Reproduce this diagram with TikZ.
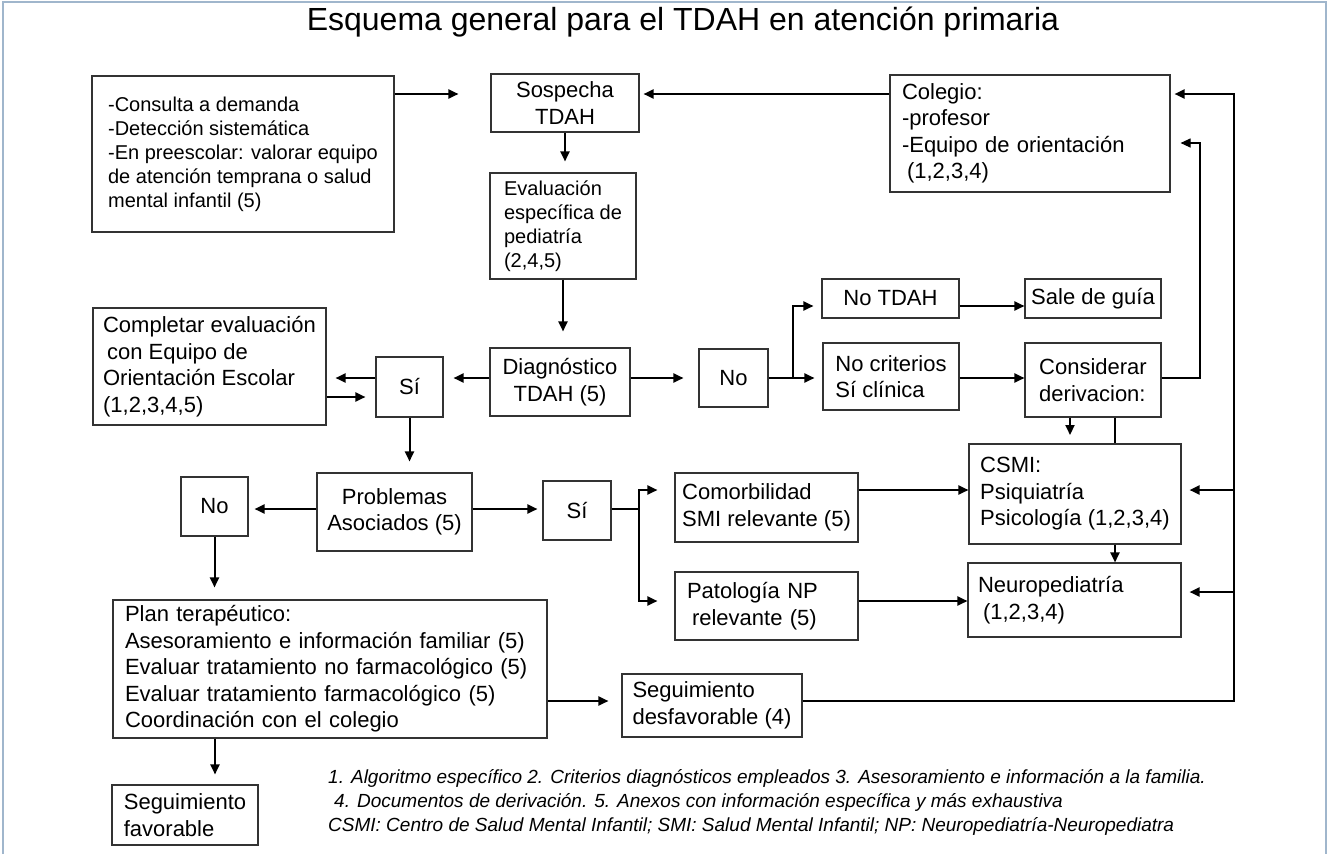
\documentclass[tikz,border=0pt]{standalone}
\usepackage{fontspec}
\setmainfont{Liberation Sans}
\usetikzlibrary{arrows.meta}
\newcommand{\TS}{\fontsize{22}{26.5}\selectfont}
\newcommand{\TSA}{\fontsize{20}{24}\selectfont}
\newcommand{\HS}{\fontsize{32}{38}\selectfont}
\newcommand{\NS}{\fontsize{19}{24}\selectfont\itshape}
\newcommand{\lw}{1.1pt}
\newcommand{\alw}{2pt}
\definecolor{framegray}{RGB}{160,182,204}

\begin{document}
\begin{tikzpicture}[x=1pt,y=-1pt,
    box/.style={draw=black!80,line width=\lw,font=\TS,inner xsep=4pt,inner ysep=2pt,align=center},
    lbox/.style={box,align=left},
    arr/.style={line width=\alw,-{Triangle[length=10pt,width=9pt]}},
    fine/.style={line width=1.1pt}]
    \useasboundingbox (0,0) rectangle (1330,854);
    \draw[framegray,line width=2pt] (3,854) |- (1326,2) -- (1326,854);

    \node[font=\HS] (title) at (683,22) {Esquema general para el TDAH en atención primaria};

    \node[lbox,font=\TSA,minimum width=302pt,minimum height=156pt] (consulta) at (243,154)
        {-Consulta a demanda\\-Detección sistemática\\-En preescolar: valorar equipo\\de atención temprana o salud\\mental infantil (5)};
    \node[box,minimum width=148pt,minimum height=58pt] (sospecha) at (565,103) {Sospecha\\TDAH};
    \node[lbox,font=\TSA,minimum width=146pt,minimum height=106pt] (evaluacion) at (563,226) {Evaluación\\específica de\\pediatría\\(2,4,5)};
    \node[lbox,inner xsep=12pt,text width=256pt,minimum height=117pt] (colegio) at (1030,133.5)
        {Colegio:\\-profesor\\-Equipo de orientación\\\hspace*{5pt}(1,2,3,4)};
    \node[lbox,minimum width=233pt,minimum height=117pt] (completar) at (209.5,366.5)
        {Completar evaluación\\\hspace*{4pt}con Equipo de\\Orientación Escolar\\(1,2,3,4,5)};
    \node[box,minimum width=67pt,minimum height=60pt] (si1) at (409.5,387) {Sí};
    \node[box,minimum width=140pt,minimum height=68pt] (diag) at (560,382) {Diagnóstico\\TDAH (5)};
    \node[box,minimum width=69pt,minimum height=58pt] (noR) at (733.5,378) {No};
    \node[box,minimum width=137pt,minimum height=39pt] (notdah) at (890.5,298.5) {No TDAH};
    \node[box,minimum width=136pt,minimum height=39pt] (sale) at (1093,298.5) {Sale de guía};
    \node[lbox,minimum width=136pt,minimum height=67pt] (nocrit) at (891,376.5) {No criterios\\Sí clínica};
    \node[lbox,minimum width=136pt,minimum height=74pt] (consid) at (1093,380) {Considerar\\derivacion:};
    \node[box,minimum width=155pt,minimum height=78pt] (problemas) at (394.5,512) {Problemas\\Asociados (5)};
    \node[box,minimum width=67pt,minimum height=59pt] (noL) at (214.5,506.5) {No};
    \node[box,minimum width=68pt,minimum height=59pt] (si2) at (577,510.5) {Sí};
    \node[lbox,minimum width=183pt,minimum height=69pt] (comorb) at (766.5,507.5) {Comorbilidad\\SMI relevante (5)};
    \node[lbox,inner xsep=12pt,text width=159pt,minimum height=68pt] (patol) at (766.5,606) {Patología NP\\\hspace*{5pt}relevante (5)};
    \node[lbox,minimum width=212pt,minimum height=100pt] (csmi) at (1075,494) {CSMI:\\Psiquiatría\\Psicología (1,2,3,4)};
    \node[lbox,inner xsep=10pt,text width=193pt,minimum height=74pt] (neuro) at (1074.5,600) {Neuropediatría\\\hspace*{5pt}(1,2,3,4)};
    \node[lbox,inner xsep=12pt,text width=410pt,minimum height=138pt] (plan) at (330,669)
        {Plan terapéutico:\\Asesoramiento e información familiar (5)\\Evaluar tratamiento no farmacológico (5)\\Evaluar tratamiento farmacológico (5)\\Coordinación con el colegio};
    \node[lbox,minimum width=180pt,minimum height=63pt] (segdes) at (712,705.5) {Seguimiento\\desfavorable (4)};
    \node[lbox,minimum width=146pt,minimum height=60pt] (segfav) at (185,815) {Seguimiento\\favorable};
    \node[font=\NS,align=left,anchor=north west,inner sep=0pt] (notas) at (328,769)
        {1. Algoritmo específico 2. Criterios diagnósticos empleados 3. Asesoramiento e información a la familia.\\
         \hspace*{6pt}4. Documentos de derivación. 5. Anexos con información específica y más exhaustiva\\
         CSMI: Centro de Salud Mental Infantil; SMI: Salud Mental Infantil; NP: Neuropediatría-Neuropediatra};

    \coordinate (yTop) at (0,94);
    \coordinate (yCol) at (0,143);
    \coordinate (yNoT) at (0,306);
    \coordinate (yMid) at (0,378);
    \coordinate (yRet) at (0,397);
    \coordinate (yCom) at (0,490);
    \coordinate (yProb) at (0,509);
    \coordinate (yNeu) at (0,592);
    \coordinate (yPat) at (0,601);
    \coordinate (ySeg) at (0,701);
    \coordinate (xFav) at (215,0);
    \coordinate (xFork) at (639,0);
    \coordinate (xNo) at (793,0);
    \coordinate (xDer) at (1115,0);
    \coordinate (xLoop) at (1200,0);
    \coordinate (xBus) at (1234,0);
    \coordinate (derTip) at (1070,435);

    \draw[arr,shorten >=32pt] (consulta.east |- yTop) -- (sospecha.west |- yTop);
    \draw[arr,shorten >=4pt] (colegio.west |- yTop) -- (sospecha.east |- yTop);
    \draw[arr,shorten >=11pt] (sospecha.south) -- (sospecha.south |- evaluacion.north);
    \draw[arr,shorten >=16pt] (evaluacion.south) -- (evaluacion.south |- diag.north);
    \draw[arr,shorten >=10pt] (diag.west |- yMid) -- (si1.east |- yMid);
    \draw[arr,shorten >=9pt] (si1.west |- yMid) -- (completar.east |- yMid);
    \draw[arr,shorten >=10pt] (completar.east |- yRet) -- (si1.west |- yRet);
    \draw[arr,shorten >=11pt] (si1.south) -- (si1.south |- problemas.north);
    \draw[arr,shorten >=6pt] (problemas.west |- yProb) -- (noL.east |- yProb);
    \draw[arr,shorten >=5pt] (problemas.east |- yProb) -- (si2.west |- yProb);
    \draw[arr,shorten >=12pt] (noL.south) -- (noL.south |- plan.north);
    \draw[arr,shorten >=17pt] (si2.east |- yProb) -| (xFork |- yCom) -- (comorb.west |- yCom);
    \draw[arr,shorten >=17pt] (xFork |- yCom) |- (patol.west |- yPat);
    \draw[arr] (comorb.east |- yCom) -- (csmi.west |- yCom);
    \draw[arr] (patol.east |- yPat) -- (neuro.west |- yPat);
    \draw[arr] (csmi.south -| xDer) -- (neuro.north -| xDer);
    \draw[arr,shorten >=15pt] (diag.east |- yMid) -- (noR.west |- yMid);
    \draw[arr,shorten >=8pt] (noR.east |- yMid) -| (xNo |- yNoT) -- (notdah.west |- yNoT);
    \draw[arr,shorten >=8pt] (xNo |- yMid) -- (nocrit.west |- yMid);
    \draw[arr] (notdah.east |- yNoT) -- (sale.west |- yNoT);
    \draw[arr] (nocrit.east |- yMid) -- (consid.west |- yMid);
    \draw[arr,fine,shorten >=10pt] (consid.east |- yMid) -| (xLoop |- yCol) -- (colegio.east |- yCol);
    \draw[arr] (consid.south -| derTip) -- (derTip);
    \draw[fine] (consid.south -| xDer) -- (csmi.north -| xDer);
    \draw[arr,shorten >=13pt] (plan.east |- ySeg) -- (segdes.west |- ySeg);
    \draw[arr,shorten >=4pt] (segdes.east |- ySeg) -| (xBus |- yTop) -- (colegio.east |- yTop);
    \draw[arr,shorten >=8pt] (xBus |- yCom) -- (csmi.east |- yCom);
    \draw[arr,shorten >=8pt] (xBus |- yNeu) -- (neuro.east |- yNeu);
    \draw[arr,shorten >=10pt] (plan.south -| xFav) -- (segfav.north -| xFav);
\end{tikzpicture}
\end{document}
